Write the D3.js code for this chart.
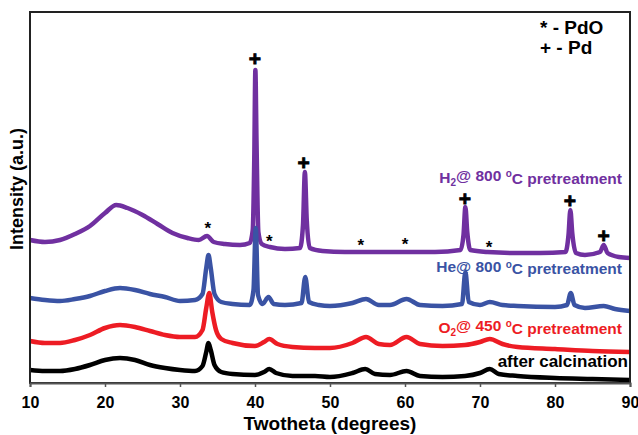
<!DOCTYPE html>
<html>
<head>
<meta charset="utf-8">
<script src="https://cdn.jsdelivr.net/npm/d3@7"></script>
<style>
  html, body { margin: 0; padding: 0; background: #fff; }
  svg { display: block; font-family: "Liberation Sans", Arial, sans-serif; }
</style>
</head>
<body>
<svg id="chart" width="638" height="435"></svg>
<script>
// ---------- DATA (2-theta in degrees, intensity in a.u., offset stacked) ----------
const xTicks = [10, 20, 30, 40, 50, 60, 70, 80, 90];

const seriesNames = ["after calcination", "O2@ 450 oC pretreatment", "He@ 800 oC pretreatment", "H2@ 800 oC pretreatment"];

const thetaCalc = [10,12,14,16,18,20,22,24,26,28,30,32,33.0,33.5,33.8,34.1,34.6,35.5,37,40,41.2,41.9,42.8,45,48,50,53,54.7,56,58,60.2,62,65,68,70,71.3,72.5,75,80,85,90];
const intCalc   = [13,12,12,14,18,23,25,23,18,15,13,12,17,31,40,33,18,11,9,8,11,14,10,7,7,6,10,14,9,8,12,7,6,7,10,14,9,7,5,4,3];

const thetaO2 = [10,12,14,16,18,20,22,24,26,28,30,32,33.0,33.5,33.9,34.3,34.8,35.5,37,40,41.2,41.9,43,45,48,50,53,54.8,56.5,58,60.2,62,65,68,70,71.3,73,75,80,85,90];
const intO2   = [42,40,40,43,48,55,58,56,52,48,46,46,53,75,90,71,53,44,40,37,41,44,39,36,35,35,40,46,39,38,46,39,37,38,41,44,39,36,34,32,31];

const thetaHe = [10,12,14,16,18,20,22,24,26,28,30,32,33.0,33.5,33.8,34.1,34.6,35.5,37,39.3,39.8,40.1,40.4,41,41.8,42.5,44,46.2,46.7,47.2,48.5,50,53,54.8,56.5,58,60.2,62,65,67.6,68.05,68.5,70,71.3,73,75,80,81.6,82.1,82.6,84,86.5,88,90];
const intHe   = [85,83,82,84,87,92,95,93,89,86,82,83,89,115,128,115,89,81,79,78,93,155,88,79,86,79,78,80,106,81,78,77,80,84,78,78,84,78,77,79,111,81,78,81,78,77,76,78,90,78,75,77,74,72];

const thetaH2 = [10,12,14,16,18,20,21.5,23,25,27,29,31,32.5,33.6,34.5,36,38,39.3,39.7,39.9,40.05,40.2,40.45,40.9,42,44,46.0,46.4,46.65,46.9,47.3,49,52,55,58,61,64,67.4,67.8,68.05,68.3,68.7,71,75,78,81.4,81.8,82.05,82.3,82.8,84,86.0,86.5,87.0,88.5,90];
const intH2   = [143,141,143,149,157,170,178,175,168,159,150,145,143,147,141,139,138,140,153,223,313,243,151,139,136,134,135,158,211,163,135,132,131,131,131,131,131,133,148,176,151,133,131,130,130,131,148,173,150,130,128,131,138,130,126,125];

// peak markers: "+" = Pd, "*" = PdO (position in 2-theta, height in a.u.)
const pdTheta    = [40.0, 46.5, 68.0, 82.0, 86.5];
const pdHeight   = [324, 220, 184, 182, 147];
const pdoTheta   = [33.7, 41.9, 54.1, 60.0, 71.2];
const pdoHeight  = [160, 147, 143, 144, 141];

// ---------- LAYOUT ----------
const svg = d3.select("#chart");
const W = 638, H = 435;
const m = { left: 30, right: 8, top: 12, bottom: 52 };
const x = d3.scaleLinear().domain([10, 90]).range([m.left, W - m.right]);
const y = d3.scaleLinear().domain([0, 371]).range([H - m.bottom, m.top]);

const colors = ["#000000", "#ED1C24", "#3A53A4", "#7030A0"];
const series = [
  { t: thetaCalc, v: intCalc, c: colors[0] },
  { t: thetaO2,   v: intO2,   c: colors[1] },
  { t: thetaHe,   v: intHe,   c: colors[2] },
  { t: thetaH2,   v: intH2,   c: colors[3] }
];

const line = d3.line().x(d => x(d[0])).y(d => y(d[1])).curve(d3.curveMonotoneX);

// traces
[...series].reverse().forEach(s => {
  const pts = s.t.map((t, i) => [t, s.v[i]]);
  svg.append("path").datum(pts)
    .attr("d", line)
    .attr("fill", "none")
    .attr("stroke", s.c)
    .attr("stroke-width", 4.5)
    .attr("stroke-linejoin", "round");
});

// frame
svg.append("rect")
  .attr("x", x(10)).attr("y", y(371))
  .attr("width", x(90) - x(10)).attr("height", y(0) - y(371))
  .attr("fill", "none").attr("stroke", "#222").attr("stroke-width", 2);

// bottom axis
const ax = svg.append("g")
  .attr("transform", `translate(0,${y(0)})`)
  .call(d3.axisBottom(x).tickValues(xTicks).tickSize(4).tickPadding(10).tickFormat(d3.format("d")));
ax.select(".domain").attr("stroke", "#555").attr("stroke-width", 2);
ax.selectAll(".tick line").attr("stroke", "#555").attr("stroke-width", 1.5);
ax.selectAll(".tick text")
  .attr("fill", "#000").style("font-size", "16px").style("font-weight", "bold")
  .style("font-family", "'Liberation Sans', Arial, sans-serif");

// axis titles
svg.append("text")
  .attr("x", 330).attr("y", 430)
  .attr("text-anchor", "middle")
  .style("font-size", "19px").style("font-weight", "bold")
  .text("Twotheta (degrees)");

svg.append("text")
  .attr("transform", "translate(23,189) rotate(-90)")
  .attr("text-anchor", "middle")
  .style("font-size", "18px").style("font-weight", "bold")
  .text("Intensity (a.u.)");

// markers
svg.selectAll("text.pd").data(pdTheta).enter().append("text")
  .attr("class", "pd")
  .attr("x", d => x(d)).attr("y", (d, i) => y(pdHeight[i]))
  .attr("dy", "0.35em").attr("text-anchor", "middle")
  .attr("stroke", "#000").attr("stroke-width", 0.8)
  .style("font-size", "21px").style("font-weight", "bold")
  .text("+");

svg.selectAll("text.pdo").data(pdoTheta).enter().append("text")
  .attr("class", "pdo")
  .attr("x", d => x(d)).attr("y", (d, i) => y(pdoHeight[i]))
  .attr("dy", "0.62em").attr("text-anchor", "middle")
  .style("font-size", "17px").style("font-weight", "bold")
  .text("*");

// legend for markers
svg.append("text").attr("x", 540).attr("y", 34)
  .style("font-size", "19px").style("font-weight", "bold").text("* - PdO");
svg.append("text").attr("x", 540).attr("y", 54)
  .style("font-size", "19px").style("font-weight", "bold").text("+ - Pd");

// series labels
function seriesLabel(parts, xEnd, yBase, color) {
  const t = svg.append("text").attr("x", xEnd).attr("y", yBase)
    .attr("text-anchor", "end").attr("fill", color)
    .style("font-size", "15.5px").style("font-weight", "bold");
  parts.forEach(p => {
    const ts = t.append("tspan").text(p.s);
    if (p.sub) ts.attr("dy", "0.3em").style("font-size", "10px");
    if (p.sup) ts.attr("dy", "-0.45em").style("font-size", "10px");
    if (p.reset) ts.attr("dy", p.reset);
  });
}
seriesLabel([{ s: "H" }, { s: "2", sub: true }, { s: "@ 800 ", reset: "-0.3em" }, { s: "o", sup: true }, { s: "C pretreatment", reset: "0.45em" }], 622, 183, colors[3]);
seriesLabel([{ s: "He@ 800 " }, { s: "o", sup: true }, { s: "C pretreatment", reset: "0.45em" }], 622, 272, colors[2]);
seriesLabel([{ s: "O" }, { s: "2", sub: true }, { s: "@ 450 ", reset: "-0.3em" }, { s: "o", sup: true }, { s: "C pretreatment", reset: "0.45em" }], 622, 333, colors[1]);
svg.append("text").attr("x", 628).attr("y", 367).attr("text-anchor", "end")
  .style("font-size", "17px").style("font-weight", "bold").text("after calcination");
</script>
</body>
</html>
